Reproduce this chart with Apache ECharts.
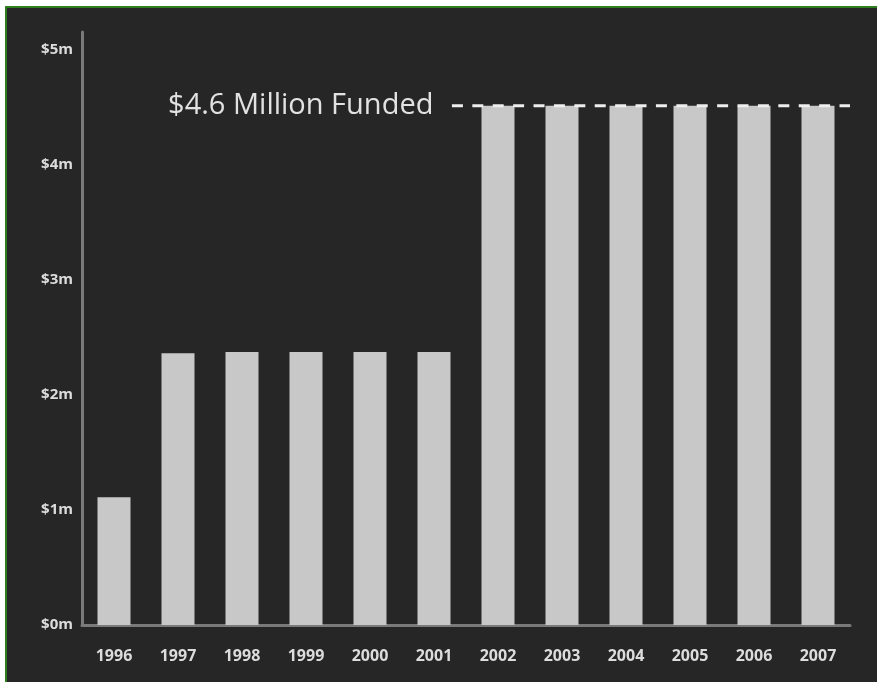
<!DOCTYPE html>
<html>
<head>
<meta charset="utf-8">
<script src="https://cdn.jsdelivr.net/npm/echarts@6/dist/echarts.min.js"></script>
<style>
  html, body { margin: 0; padding: 0; background: #ffffff; }
  #frame { position: absolute; left: 5px; top: 6px; width: 872px; height: 676px;
           background: #262626; border-top: 2px solid #2e7d1e; border-left: 2px solid #2e7d1e; box-sizing: border-box; }
  #chart { position: absolute; left: 0; top: 0; width: 877px; height: 682px; }
</style>
</head>
<body>
<div id="frame"></div>
<div id="chart"></div>
<script>
// Data (values in millions of dollars)
const years = ['1996','1997','1998','1999','2000','2001','2002','2003','2004','2005','2006','2007'];
const funding = [1.11, 2.36, 2.37, 2.37, 2.37, 2.37, 4.51, 4.51, 4.51, 4.51, 4.51, 4.51];
const yTicks = ['$0m','$1m','$2m','$3m','$4m','$5m'];
const fundedLabel = '$4.6 Million Funded';
const fundedLevel = 4.51;
const fundedLineFrom = 5.78;   // position along the category span (0..12)
const fundedLineTo = 12;

const chart = echarts.init(document.getElementById('chart'), null, { renderer: 'canvas' });
chart.setOption({
  animation: false,
  backgroundColor: 'transparent',
  grid: { left: 82, right: 27, top: 32, bottom: 57 },
  xAxis: [
    {
      type: 'category',
      data: years,
      axisLine: { show: true, lineStyle: { color: '#7a7a7a', width: 3 } },
      axisTick: { show: false },
      axisLabel: { color: '#dcdcdc', fontFamily: 'Open Sans', fontWeight: 'bold', fontSize: 16, margin: 23 },
      splitLine: { show: false }
    },
    {
      type: 'value', min: 0, max: 12, show: false
    }
  ],
  yAxis: {
    type: 'value',
    min: 0, max: 5.15, interval: 1,
    axisLine: { show: true, lineStyle: { color: '#7a7a7a', width: 3 } },
    axisTick: { show: false },
    splitLine: { show: false },
    axisLabel: {
      showMaxLabel: false,
      color: '#dcdcdc', fontFamily: 'Open Sans', fontWeight: 'bold', fontSize: 15, margin: 9,
      padding: [0, 0, 4, 0],
      formatter: function (v) { const i = Math.round(v); return (Math.abs(v - i) < 1e-6 && yTicks[i]) ? yTicks[i] : ''; }
    }
  },
  series: [
    {
      type: 'bar',
      data: funding,
      barWidth: 33,
      itemStyle: { color: '#c8c8c8' },
      silent: true
    },
    {
      type: 'line',
      xAxisIndex: 1,
      yAxisIndex: 0,
      silent: true,
      symbol: 'circle',
      symbolSize: 1,
      itemStyle: { color: 'rgba(0,0,0,0)' },
      lineStyle: { color: '#eeeeee', width: 3, type: [11, 9.4] },
      data: [
        { value: [fundedLineFrom, fundedLevel],
          label: { show: true, position: 'left', distance: 18, formatter: fundedLabel,
                   color: '#e2e2e2', fontFamily: 'Open Sans', fontSize: 29 } },
        { value: [fundedLineTo, fundedLevel] }
      ],
      z: 5
    }
  ]
});
</script>
</body>
</html>
